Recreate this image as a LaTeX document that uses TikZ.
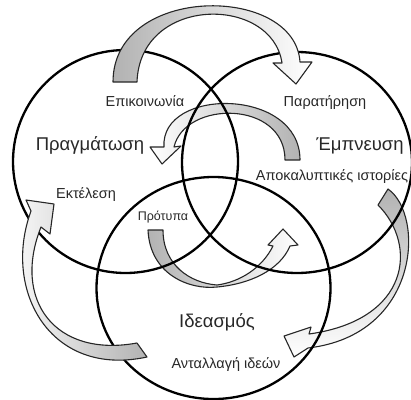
\documentclass[tikz,border=0pt]{standalone}
\usepackage{fontspec}
\setmainfont{Liberation Sans}
\definecolor{arrgray}{RGB}{178,178,178}
\definecolor{txt}{RGB}{40,40,40}
\begin{document}
\begin{tikzpicture}[x=1pt,y=-1pt,
  ring/.style={draw=black,line width=2.3pt},
  arrow/.style={draw=black!85,line width=1.1pt,line join=round},
  big/.style={font=\fontsize{18.5}{20}\selectfont,text=txt,anchor=base,inner sep=0pt},
  small/.style={font=\fontsize{14.5}{16}\selectfont,text=txt,anchor=base,inner sep=0pt},
  tiny/.style={font=\fontsize{12.5}{14}\selectfont,text=txt,anchor=base,inner sep=0pt}]
\useasboundingbox (0,0) rectangle (411,399);
\fill[white] (0,0) rectangle (411,399);

% arrows under the rings
\path[arrow,left color=white,right color=arrgray] (300,160)
  .. controls (300,87) and (160,87) .. (164,147)
  -- (150,147) -- (162,164) -- (181,146) -- (174,147)
  .. controls (185,100) and (285,100) .. (285,160) -- cycle;
\path[arrow,top color=arrgray,bottom color=white] (388,189)
  .. controls (425,215) and (420,335) .. (308,348)
  -- (294,357) -- (284,336) -- (311,327) -- (309,334)
  .. controls (410,320) and (418,245) .. (378,205) -- cycle;
\path[arrow,left color=arrgray,right color=white] (148,230)
  .. controls (150,275) and (190,290) .. (217,287)
  .. controls (250,284) and (280,270) .. (290,246)
  -- (298,245) -- (283,229) -- (268,245) -- (273,246)
  .. controls (262,268) and (240,282) .. (217,285)
  .. controls (190,283) and (163,265) .. (163,230) -- cycle;

% rings
\draw[ring] (125.5,161.5) ellipse [x radius=112.5,y radius=111.5];
\draw[ring] (297,162.5) ellipse [x radius=115,y radius=110.5];
\draw[ring] (213.5,288) ellipse [x radius=117,y radius=111];

% arrows over the rings
\path[arrow,left color=arrgray,right color=white] (113,82)
  .. controls (113,-16) and (295,-16) .. (300,62)
  -- (312,62) -- (296,84) -- (273,63) -- (282,63)
  .. controls (272,-5) and (140,-5) .. (137,82) -- cycle;
\path[arrow,left color=white,right color=arrgray] (147,357)
  .. controls (50,378) and (2,290) .. (31,211)
  -- (26,200) -- (54,204) -- (50,234) -- (41,227)
  .. controls (12,300) and (55,358) .. (137,343) -- cycle;

% labels
\node[small] (epi) at (145,106) {Επικοινωνία};
\node[small] (par) at (325,106) {Παρατήρηση};
\node[big] (pra) at (90,150) {Πραγμάτωση};
\node[big] (emp) at (360,150) {Έμπνευση};
\node[small] (apo) at (332,180) {Αποκαλυπτικές ιστορίες};
\node[small] (ekt) at (86,198) {Εκτέλεση};
\node[tiny] (pro) at (163,220) {Πρότυπα};
\node[big] (ide) at (217,327) {Ιδεασμός};
\node[small] (ant) at (226,368) {Ανταλλαγή ιδεών};
\end{tikzpicture}
\end{document}
